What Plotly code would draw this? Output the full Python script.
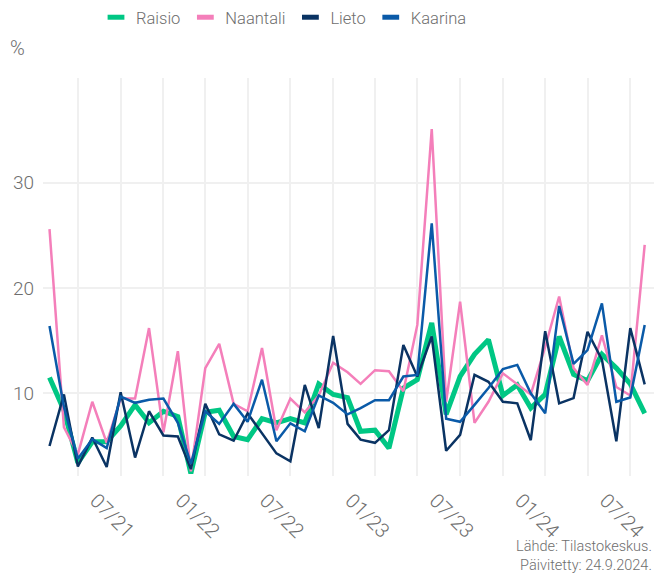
import plotly.graph_objects as go

months = [
    "2021-05-01", "2021-06-01", "2021-07-01", "2021-08-01", "2021-09-01", "2021-10-01", "2021-11-01", "2021-12-01",
    "2022-01-01", "2022-02-01", "2022-03-01", "2022-04-01", "2022-05-01", "2022-06-01", "2022-07-01", "2022-08-01",
    "2022-09-01", "2022-10-01", "2022-11-01", "2022-12-01", "2023-01-01", "2023-02-01", "2023-03-01", "2023-04-01",
    "2023-05-01", "2023-06-01", "2023-07-01", "2023-08-01", "2023-09-01", "2023-10-01", "2023-11-01", "2023-12-01",
    "2024-01-01", "2024-02-01", "2024-03-01", "2024-04-01", "2024-05-01", "2024-06-01", "2024-07-01", "2024-08-01",
    "2024-09-01", "2024-10-01", "2024-11-01",
]

raisio = [11.5, 8.4, 3.4, 5.4, 5.4, 6.9, 8.9, 7.2, 8.3, 7.8, 2.4, 8.2, 8.4, 5.9, 5.6, 7.6, 7.2, 7.6, 7.2, 10.9,
          9.9, 9.6, 6.4, 6.5, 4.8, 10.5, 11.3, 16.7, 8.0, 11.6, 13.7, 15.1, 9.8, 10.8, 8.6, 9.9, 15.4, 11.8, 11.2,
          13.7, 12.4, 10.9, 8.1]
naantali = [25.6, 6.8, 4.2, 9.2, 5.3, 9.5, 9.5, 16.2, 6.3, 14.0, 2.6, 12.4, 14.7, 9.0, 8.3, 14.3, 6.5, 9.5, 8.2,
            9.8, 12.9, 12.0, 10.9, 12.2, 12.1, 10.2, 16.5, 35.1, 9.2, 18.7, 7.2, 9.2, 11.9, 10.9, 9.9, 14.4, 19.2,
            12.4, 10.8, 15.5, 10.6, 9.8, 24.1]
lieto = [5.0, 9.9, 3.05, 5.8, 3.0, 10.1, 3.9, 8.3, 6.0, 5.9, 2.8, 9.0, 6.1, 5.5, 8.1, 6.2, 4.3, 3.55, 10.8, 6.7,
         15.45, 7.1, 5.6, 5.3, 6.5, 14.6, 11.6, 15.4, 4.55, 6.05, 11.75, 11.1, 9.2, 9.05, 5.55, 15.9, 9.05, 9.55,
         15.85, 13.2, 5.45, 16.2, 10.85]
kaarina = [16.4, 8.7, 3.8, 5.65, 4.8, 9.7, 9.1, 9.4, 9.5, 7.2, 3.3, 8.3, 7.1, 9.0, 7.3, 11.3, 5.45, 7.15, 6.4, 9.8,
           9.1, 8.0, 8.6, 9.35, 9.35, 11.6, 11.75, 26.15, 7.6, 7.3, 8.9, 10.5, 12.3, 12.7, 10.0, 8.1, 18.3, 12.8,
           14.1, 18.55, 9.2, 9.6, 16.5]

series_names = ["Raisio", "Naantali", "Lieto", "Kaarina"]
series_values = [raisio, naantali, lieto, kaarina]
colors = ["#00c784", "#f47fba", "#0a3363", "#0a5aa8"]
widths = [5, 2.5, 2.5, 2.5]

x_tickvals = ["2021-07-01", "2021-10-01", "2022-01-01", "2022-04-01", "2022-07-01", "2022-10-01",
              "2023-01-01", "2023-04-01", "2023-07-01", "2023-10-01", "2024-01-01", "2024-04-01",
              "2024-07-01", "2024-10-01"]
x_ticktext = ["07/21", "", "01/22", "", "07/22", "", "01/23", "", "07/23", "", "01/24", "", "07/24", ""]
y_tickvals = [10, 20, 30]

FONT = "Roboto"
GREY = "#6e6e6e"
W = 300

fig = go.Figure()
for name, vals, c, w in zip(series_names, series_values, colors, widths):
    fig.add_trace(go.Scatter(x=months, y=vals, mode="lines", name=name, showlegend=False,
                             line=dict(color=c, width=w), hovertemplate="%{y}<extra>" + name + "</extra>"))
for name, c in zip(series_names, colors):
    fig.add_trace(go.Scatter(x=[None], y=[None], mode="markers", name=name,
                             marker=dict(symbol="line-ew", size=12, line=dict(width=5, color=c))))

fig.update_layout(
    width=654, height=579,
    margin=dict(l=43, r=0, t=78, b=103),
    plot_bgcolor="white", paper_bgcolor="white",
    font=dict(family=FONT, color=GREY, size=17, weight=W),
    legend=dict(orientation="h", x=96 / 654, xref="container", xanchor="left", y=1.0, yref="container",
                yanchor="top", font=dict(size=16.5, family=FONT, color=GREY, weight=W), itemclick=False,
                tracegroupgap=0),
    xaxis=dict(type="date", range=["2021-04-17", "2024-11-21"], tickvals=x_tickvals, ticktext=x_ticktext,
               tickangle=45, showgrid=True, gridcolor="#f0f0f0", gridwidth=2, zeroline=False,
               showline=False, ticks="", ticklabelshift=18, ticklabelstandoff=8,
               tickfont=dict(size=20, family=FONT, color=GREY, weight=W)),
    yaxis=dict(range=[2.15, 39.95], tickvals=y_tickvals, showgrid=True, gridcolor="#f0f0f0", gridwidth=2,
               zeroline=False, showline=False, ticks="", ticklabelstandoff=8,
               tickfont=dict(size=19, family=FONT, color=GREY, weight=W)),
    annotations=[
        dict(text="%", xref="paper", yref="paper", x=-0.058, y=1.04, xanchor="left", yanchor="bottom",
             showarrow=False, font=dict(size=20, family=FONT, color=GREY, weight=W)),
        dict(text="Lähde: Tilastokeskus.<br>Päivitetty: 24.9.2024.", xref="paper", yref="paper", x=1.0, y=-0.252,
             xanchor="right", yanchor="bottom", align="right", showarrow=False,
             font=dict(size=14.5, family=FONT, color=GREY, weight=W)),
    ],
)

fig.write_html("out.html", config={"displayModeBar": False},
               post_script="document.body.style.margin='0';document.body.style.overflow='hidden';")
